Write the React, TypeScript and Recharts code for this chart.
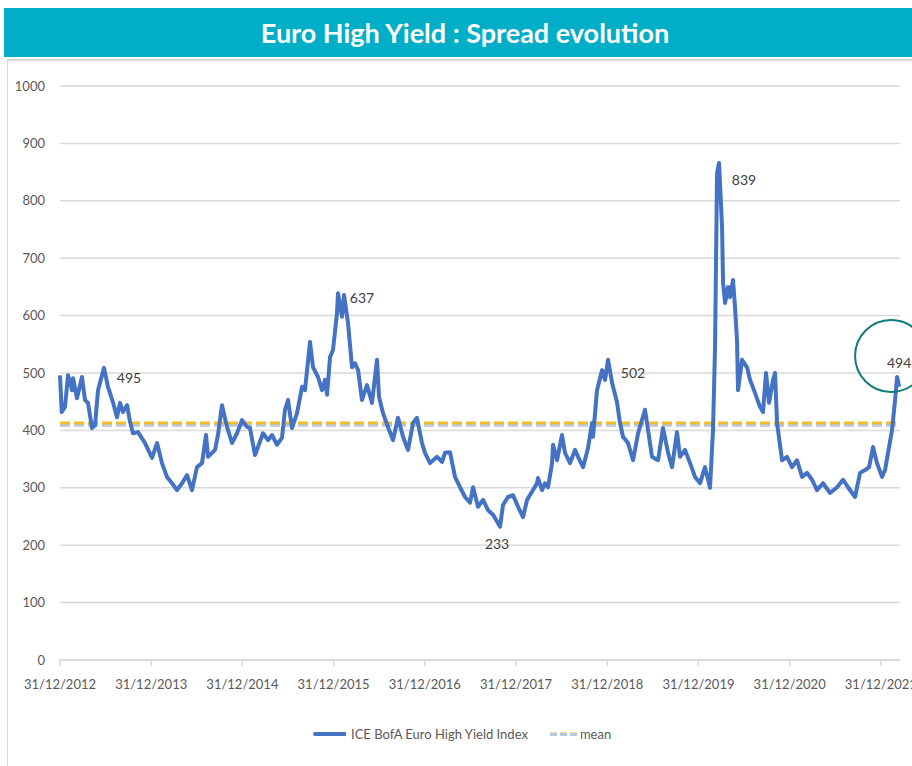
import React from 'react';
import {
  LineChart,
  Line,
  XAxis,
  YAxis,
  CartesianGrid,
  ReferenceDot,
} from 'recharts';

// years elapsed since 31/12/2012
const times = [
  0.0, 0.019, 0.055, 0.088, 0.132, 0.143, 0.186, 0.241, 0.274, 0.307, 0.351, 0.384, 0.417, 0.482,
  0.526, 0.581, 0.625, 0.658, 0.691, 0.735, 0.768, 0.8, 0.855, 0.932, 1.009, 1.064, 1.118, 1.173,
  1.228, 1.283, 1.338, 1.393, 1.447, 1.502, 1.557, 1.601, 1.623, 1.7, 1.732, 1.776, 1.831, 1.886,
  1.941, 1.996, 2.05, 2.083, 2.138, 2.226, 2.281, 2.325, 2.379, 2.434, 2.467, 2.5, 2.544, 2.599,
  2.654, 2.686, 2.741, 2.774, 2.829, 2.873, 2.906, 2.928, 2.961, 2.993, 3.037, 3.048, 3.092, 3.114,
  3.158, 3.202, 3.235, 3.268, 3.311, 3.366, 3.421, 3.476, 3.498, 3.542, 3.596, 3.651, 3.706, 3.761,
  3.816, 3.871, 3.914, 3.969, 4.002, 4.057, 4.134, 4.189, 4.221, 4.276, 4.331, 4.386, 4.441, 4.496,
  4.529, 4.583, 4.638, 4.693, 4.748, 4.825, 4.857, 4.912, 4.967, 5.022, 5.077, 5.121, 5.175, 5.23,
  5.241, 5.285, 5.318, 5.351, 5.395, 5.406, 5.45, 5.504, 5.537, 5.592, 5.647, 5.68, 5.735, 5.789,
  5.833, 5.844, 5.888, 5.943, 5.976, 6.009, 6.053, 6.107, 6.14, 6.173, 6.228, 6.283, 6.338, 6.414,
  6.447, 6.491, 6.557, 6.612, 6.667, 6.711, 6.765, 6.798, 6.853, 6.908, 6.963, 7.018, 7.072, 7.127,
  7.16, 7.182, 7.204, 7.226, 7.259, 7.27, 7.292, 7.325, 7.346, 7.379, 7.401, 7.423, 7.434, 7.478,
  7.533, 7.566, 7.621, 7.675, 7.708, 7.741, 7.774, 7.818, 7.84, 7.862, 7.917, 7.971, 8.026, 8.081,
  8.136, 8.191, 8.246, 8.3, 8.366, 8.443, 8.52, 8.586, 8.64, 8.717, 8.772, 8.827, 8.871, 8.914,
  8.958, 9.013, 9.046, 9.079, 9.123, 9.156, 9.178, 9.2,
];

const spreads = [
  496, 432, 441, 496, 470, 491, 456, 493, 453, 448, 404, 409, 470, 509,
  476, 449, 423, 448, 432, 444, 415, 395, 397, 378, 352, 378, 343, 319,
  308, 296, 308, 322, 296, 336, 343, 392, 354, 366, 392, 444, 406, 378,
  395, 418, 406, 404, 357, 395, 383, 392, 375, 387, 436, 453, 404, 430,
  476, 470, 554, 510, 493, 470, 488, 462, 528, 540, 604, 639, 598, 636,
  587, 510, 517, 505, 453, 479, 448, 523, 458, 430, 406, 383, 422, 389,
  366, 413, 422, 378, 361, 343, 354, 345, 361, 362, 319, 301, 284, 274,
  301, 267, 279, 261, 253, 232, 270, 284, 287, 267, 249, 279, 293, 308,
  317, 296, 308, 301, 343, 375, 348, 392, 361, 343, 366, 354, 336, 369,
  413, 389, 470, 505, 488, 523, 483, 449, 413, 389, 378, 348, 395, 436,
  401, 354, 348, 404, 361, 336, 397, 354, 366, 343, 319, 308, 336, 300,
  401, 545, 848, 866, 754, 657, 622, 650, 632, 662, 615, 557, 470, 523,
  510, 488, 465, 441, 432, 500, 448, 488, 500, 413, 348, 354, 336, 348,
  319, 326, 314, 296, 308, 291, 301, 314, 301, 284, 326, 331, 336, 371,
  343, 319, 331, 361, 401, 453, 493, 476,
];

const meanYellow = 413;
const meanBlue = 409;

const xTicks = [0, 1, 2, 3, 4, 5, 6, 7, 8, 9];
const xTickLabels = [
  '31/12/2012', '31/12/2013', '31/12/2014', '31/12/2015', '31/12/2016',
  '31/12/2017', '31/12/2018', '31/12/2019', '31/12/2020', '31/12/2021',
];
const yTicks = [0, 100, 200, 300, 400, 500, 600, 700, 800, 900, 1000];

// annotated points
const noteTimes = [0.482, 3.048, 4.825, 6.009, 7.226, 9.178];
const noteValues = [509, 639, 232, 523, 866, 493];
const noteTexts = ['495', '637', '233', '502', '839', '494'];
// label offsets in px from the anchor point
const noteOffsets = [
  [25, 10], [24, 4], [-3, 17], [25, 13], [25, 17], [2, -15],
];

const data = times.map((t, i) => ({
  t,
  spread: spreads[i],
  meanA: meanYellow,
  meanB: meanBlue,
}));

const FONT = 'Lato, "Open Sans", sans-serif';
const GREY = '#595959';
const BLUE = '#4472C4';

export default function App() {
  const last = times.length - 1;
  return (
    <div style={{ position: 'absolute', left: 0, top: 0, width: 912, height: 766, overflow: 'hidden', fontFamily: FONT }}>
      <div
        style={{
          position: 'absolute',
          left: 4,
          top: 8,
          width: 908,
          height: 49,
          background: '#00AEC7',
          color: '#fff',
          fontWeight: 700,
          fontSize: 27,
          lineHeight: '49px',
          textAlign: 'center',
          paddingLeft: 14,
          boxSizing: 'border-box',
        }}
      >
        Euro High Yield : Spread evolution
      </div>
      <div
        style={{
          position: 'absolute',
          left: 7,
          top: 59,
          width: 905,
          height: 707,
          borderTop: '2px solid #d9d9d9',
          borderLeft: '1px solid #d9d9d9',
          boxSizing: 'border-box',
        }}
      />
      <div style={{ position: 'absolute', left: 0, top: 0 }}>
        <LineChart
          width={912}
          height={766}
          data={data}
          margin={{ top: 86, right: 12, bottom: 66, left: 0 }}
        >
          <CartesianGrid vertical={false} stroke="#d9d9d9" strokeWidth={1.5} />
          <XAxis
            dataKey="t"
            type="number"
            domain={[0, 9.21]}
            ticks={xTicks}
            tickFormatter={(v: number) => xTickLabels[v] ?? ''}
            height={40}
            stroke="#d9d9d9"
            strokeWidth={1.5}
            tickSize={6}
            tickMargin={14}
            tick={{ fill: GREY, fontSize: 13, fontFamily: FONT }}
            interval={0}
          />
          <YAxis
            type="number"
            domain={[0, 1000]}
            ticks={yTicks}
            width={60}
            axisLine={false}
            tickLine={false}
            tickSize={0}
            tickMargin={15}
            tick={{ fill: GREY, fontSize: 13, fontFamily: FONT }}
            interval={0}
          />
          <Line
            dataKey="meanB"
            stroke="#B4C7E7"
            strokeWidth={3}
            strokeDasharray="10 4"
            dot={false}
            isAnimationActive={false}
          />
          <Line
            dataKey="meanA"
            stroke="#F2BE2C"
            strokeWidth={3}
            strokeDasharray="10 4"
            dot={false}
            isAnimationActive={false}
          />
          <Line
            dataKey="spread"
            stroke={BLUE}
            strokeWidth={4}
            strokeLinejoin="round"
            dot={false}
            isAnimationActive={false}
          />
          {noteTimes.map((t, i) => (
            <ReferenceDot
              key={i}
              x={t}
              y={noteValues[i]}
              r={1}
              shape={(p: any) => (
                <text
                  x={p.cx + noteOffsets[i][0]}
                  y={p.cy + noteOffsets[i][1]}
                  textAnchor="middle"
                  dominantBaseline="central"
                  fill="#404040"
                  fontSize={14}
                  fontFamily={FONT}
                >
                  {noteTexts[i]}
                </text>
              )}
            />
          ))}
          <ReferenceDot
            x={times[last - 1]}
            y={spreads[last - 1]}
            r={36}
            shape={(p: any) => (
              <circle cx={p.cx - 6} cy={p.cy - 21} r={36} fill="none" stroke="#0E7C7B" strokeWidth={2} />
            )}
          />
        </LineChart>
      </div>
      <div
        style={{
          position: 'absolute',
          left: 312,
          top: 724,
          height: 20,
          display: 'flex',
          alignItems: 'center',
          color: GREY,
          fontSize: 13,
        }}
      >
        <svg width={34} height={8}>
          <line x1={3} y1={4} x2={33} y2={4} stroke={BLUE} strokeWidth={4} strokeLinecap="round" />
        </svg>
        <span style={{ marginLeft: 5 }}>ICE BofA Euro High Yield Index</span>
        <svg width={32} height={8} style={{ marginLeft: 20 }}>
          <line x1={2} y1={4} x2={30} y2={4} stroke="#F2BE2C" strokeWidth={3} strokeDasharray="7 3" />
          <line x1={2} y1={4.5} x2={30} y2={4.5} stroke="#B4C7E7" strokeWidth={3} strokeDasharray="7 3" />
        </svg>
        <span>mean</span>
      </div>
    </div>
  );
}
